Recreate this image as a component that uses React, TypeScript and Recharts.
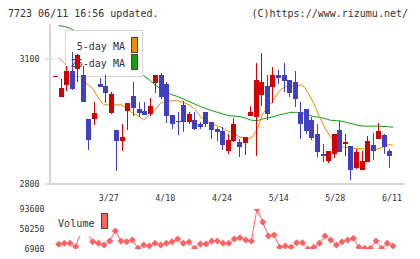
import React from 'react';
import { ComposedChart, BarChart, LineChart, Line, Bar, XAxis, YAxis } from 'recharts';

// trading days shown on the chart
const dates = [
  '3/12', '3/13', '3/14', '3/17', '3/18', '3/19', '3/21', '3/24', '3/25', '3/26',
  '3/27', '3/28', '3/31', '4/1', '4/2', '4/3', '4/4', '4/7', '4/8', '4/9',
  '4/10', '4/11', '4/14', '4/15', '4/16', '4/17', '4/18', '4/21', '4/22', '4/23',
  '4/24', '4/25', '4/30', '5/1', '5/2', '5/7', '5/8', '5/9', '5/12', '5/13',
  '5/14', '5/15', '5/16', '5/19', '5/20', '5/21', '5/22', '5/23', '5/26', '5/27',
  '5/28', '5/29', '5/30', '6/2', '6/3', '6/4', '6/5', '6/6', '6/9', '6/10',
  '6/11',
];

const opens = [
  3060, 3010, 3038, 3072, 3076, 3062, 2956, 2956, 3040, 3036,
  2970, 2930, 2904, 2976, 3012, 2980, 2974, 2968, 3042, 3062,
  3040, 2966, 2952, 2990, 2950, 2954, 2944, 2974, 2948, 2932,
  2928, 2880, 2904, 2902, 2898, 2964, 2960, 3014, 3036, 3034,
  3062, 3062, 3050, 3044, 2974, 2980, 2954, 2920, 2872, 2856,
  2871, 2930, 2896, 2891, 2839, 2834, 2854, 2894, 2909, 2918,
  2879,
];
const highs = [
  3060, 3052, 3084, 3116, 3112, 3084, 2956, 2998, 3054, 3062,
  3020, 2930, 2944, 2994, 3044, 2998, 2996, 3006, 3062, 3066,
  3044, 2966, 2974, 3000, 2974, 2974, 2950, 2974, 2950, 2936,
  2936, 2920, 2958, 2908, 2914, 2988, 3090, 3114, 3062, 3082,
  3074, 3090, 3050, 3072, 2998, 2980, 2960, 2944, 2896, 2879,
  2920, 2952, 2920, 2891, 2883, 2879, 2915, 2922, 2946, 2920,
  2884,
];
const lows = [
  3060, 3010, 3024, 3026, 3045, 2998, 2882, 2944, 3032, 2996,
  2968, 2832, 2880, 2930, 2963, 2962, 2966, 2962, 3020, 3004,
  2946, 2932, 2918, 2926, 2946, 2930, 2934, 2938, 2910, 2902,
  2880, 2872, 2900, 2866, 2872, 2964, 2866, 2986, 2954, 2996,
  3040, 3020, 3010, 2986, 2910, 2920, 2906, 2864, 2854, 2850,
  2862, 2878, 2867, 2810, 2834, 2834, 2854, 2858, 2909, 2872,
  2839,
];
const closes = [
  3060, 3030, 3072, 3028, 3110, 2998, 2906, 2970, 3034, 3018,
  3016, 2904, 2913, 2994, 2982, 2970, 2966, 2988, 3062, 3008,
  2964, 2944, 2950, 2950, 2968, 2932, 2938, 2944, 2930, 2926,
  2894, 2906, 2944, 2890, 2914, 2974, 3050, 3044, 2968, 3062,
  3054, 3048, 3018, 3004, 2944, 2928, 2910, 2878, 2867, 2879,
  2920, 2878, 2900, 2834, 2878, 2855, 2903, 2880, 2928, 2890,
  2867,
];

// 5-day and 25-day moving averages as published with the quotes
const ma5 = [
  null, 3104, 3090, 3080, 3070, 3062, 3040, 3030, 3006, 2990,
  2990, 2990, 2990, 2984, 2970, 2964, 2954, 2966, 2978, 2994,
  2998, 3000, 3000, 2996, 2990, 2980, 2962, 2952, 2944, 2940,
  2934, 2926, 2920, 2912, 2910, 2910, 2930, 2968, 2986, 3004,
  3024, 3034, 3035, 3035, 3038, 3020, 2994, 2962, 2934, 2912,
  2896, 2890, 2887, 2886, 2885, 2884, 2883, 2882, 2887, 2894,
  2894,
];
const ma25 = [
  null, 3180, 3178, 3174, 3166, 3158, 3150, 3141, 3132, 3123,
  3114, 3106, 3097, 3088, 3080, 3071, 3060, 3050, 3038, 3028,
  3020, 3014, 3010, 3004, 2998, 2992, 2986, 2981, 2976, 2972,
  2968, 2964, 2963, 2962, 2958, 2953, 2952, 2956, 2959, 2962,
  2966, 2969, 2972, 2972, 2971, 2966, 2962, 2960, 2957, 2953,
  2952, 2951, 2947, 2944, 2940, 2939, 2939, 2939, 2938, 2938,
  2936,
];

const volumes = [
  null, 17100, 19300, 19300, 11900, 45900, 41600, 22700, 19300, 15600,
  24200, 45900, 24200, 22700, 26400, 8400, 15600, 13400, 19300, 15600,
  19300, 22700, 28600, 19300, 22100, 8400, 17700, 17700, 24200, 24200,
  19300, 19300, 28600, 31400, 26400, 24200, 93600, 65400, 35100, 37200,
  10600, 13400, 10600, 20600, 20600, 6900, 10600, 19300, 35100, 26400,
  15600, 22700, 26400, 30100, 10600, 8400, 8400, 24200, 8400, 19300,
  13400,
];

const priceTicks = [2800, 3100];
const dateTicks = ['3/27', '4/10', '4/24', '5/14', '5/28', '6/11'];
const volumeTicks = [6900, 50250, 93600];
const weekTicks = [0, 1, 2, 3, 4, 5, 6, 7, 8, 9, 10, 11];

const table = dates.map((date, i) => ({
  date,
  open: opens[i],
  high: highs[i],
  low: lows[i],
  close: closes[i],
  range: [lows[i], highs[i]],
  ma5: ma5[i],
  ma25: ma25[i],
  volume: volumes[i],
}));

const MONO = '"DejaVu Sans Mono", monospace';
const AXIS = '#d6d6d6';
const TEXT = '#333333';
const UP = '#d40000';
const DOWN = '#4040c0';
const ORANGE = '#f08c00';
const GREEN = '#10a010';
const VOL = '#ff6262';
const PRICE_DOMAIN = [2800, 3184];
const PAD = { left: 3, right: 12 };
const PRICE_MARGIN = { top: 24, right: 15, bottom: 10 };

function Candle(props: any) {
  const { x, y, width, height, payload } = props;
  const { open, high, low, close } = payload;
  const top = Math.min(y, y + height);
  const h = Math.abs(height);
  const toY = (v: number) => (high === low ? top : top + ((high - v) / (high - low)) * h);
  const color = close >= open ? UP : DOWN;
  const bx = Math.round(x);
  const cx = bx + Math.floor(width / 2);
  const bodyTop = Math.round(toY(Math.max(open, close)));
  const bodyBottom = Math.round(toY(Math.min(open, close)));
  return (
    <g>
      <rect x={cx} y={Math.round(top)} width={1} height={Math.max(1, Math.round(h))} fill={color} />
      <rect x={bx} y={bodyTop} width={width} height={Math.max(1, bodyBottom - bodyTop)} fill={color} />
    </g>
  );
}

function PriceTick({ x, y, payload }: any) {
  return (
    <g>
      <line x1={x - 5} x2={x + 3} y1={y} y2={y} stroke={AXIS} strokeWidth={1.5} />
      <text x={x - 10.5} y={y + 3} textAnchor="end" fontFamily={MONO} fontSize={8.3} fill={TEXT}>
        {payload.value}
      </text>
    </g>
  );
}

function DateTick({ x, y, payload }: any) {
  return (
    <text x={x - 1} y={y + 17} textAnchor="middle" fontFamily={MONO} fontSize={8.3} fill={TEXT}>
      {payload.value}
    </text>
  );
}

function WeekTick({ x, y }: any) {
  return <line x1={x} x2={x} y1={y - 3} y2={y + 5} stroke={AXIS} strokeWidth={1.5} />;
}

function VolumeTick({ x, y, payload }: any) {
  return (
    <text x={x - 5.5} y={y + 3} textAnchor="end" fontFamily={MONO} fontSize={8.3} fill={TEXT}>
      {payload.value}
    </text>
  );
}

function Diamond({ cx, cy, index }: any) {
  if (cy == null || cx == null) return <g key={index} />;
  const r = 3.5;
  return (
    <polygon
      key={index}
      points={`${cx},${cy - r} ${cx + r},${cy} ${cx},${cy + r} ${cx - r},${cy}`}
      fill={VOL}
    />
  );
}

const layer: React.CSSProperties = { position: 'absolute', left: 0, top: 0 };

export default function App() {
  return (
    <div style={{ position: 'absolute', left: 0, top: 0, width: 420, height: 259, background: '#fff' }}>
      {/* axes and moving averages */}
      <div style={layer}>
        <ComposedChart width={420} height={210} data={table} margin={{ ...PRICE_MARGIN, left: 0 }}>
          <XAxis
            dataKey="date"
            ticks={dateTicks}
            interval={0}
            height={16}
            padding={PAD}
            axisLine={{ stroke: AXIS, strokeWidth: 2 }}
            tickLine={false}
            tickSize={0}
            tickMargin={0}
            tick={DateTick}
          />
          <YAxis
            width={50}
            domain={PRICE_DOMAIN}
            allowDataOverflow
            ticks={priceTicks}
            interval={0}
            axisLine={{ stroke: AXIS, strokeWidth: 2 }}
            tickLine={false}
            tickSize={0}
            tickMargin={0}
            tick={PriceTick}
          />
          <Line dataKey="ma25" stroke={GREEN} strokeWidth={1} dot={false} isAnimationActive={false} />
          <Line dataKey="ma5" stroke={ORANGE} strokeWidth={1} dot={false} isAnimationActive={false} />
        </ComposedChart>
      </div>

      {/* header and MA legend */}
      <svg style={layer} width={420} height={259}>
        <text x={8} y={16.5} fontFamily={MONO} fontSize={10} fill={TEXT}>
          7723 06/11 16:56 updated.
        </text>
        <text x={408} y={16.5} textAnchor="end" fontFamily={MONO} fontSize={10} fill={TEXT}>
          (C)https://www.rizumu.net/
        </text>
        <rect x={65.5} y={30.5} width={77} height={46} fill="#fff" stroke={AXIS} />
        <text x={76.7} y={50} textLength={48.3} lengthAdjust="spacingAndGlyphs" fontFamily={MONO} fontSize={11} fill={TEXT}>
          5-day MA
        </text>
        <text x={70.7} y={67} textLength={54.3} lengthAdjust="spacingAndGlyphs" fontFamily={MONO} fontSize={11} fill={TEXT}>
          25-day MA
        </text>
        <rect x={131.5} y={37.5} width={6} height={15} fill={ORANGE} stroke="#444" />
        <rect x={131.5} y={54.5} width={6} height={15} fill={GREEN} stroke="#444" />
      </svg>

      {/* candlesticks */}
      <div style={layer}>
        <BarChart width={420} height={210} data={table} margin={{ ...PRICE_MARGIN, left: 50 }}>
          <XAxis dataKey="date" hide padding={PAD} />
          <XAxis
            xAxisId="week"
            type="number"
            domain={[0, 11]}
            ticks={weekTicks}
            interval={0}
            height={16}
            axisLine={false}
            tickLine={false}
            tickSize={0}
            tickMargin={0}
            tick={WeekTick}
          />
          <YAxis hide domain={PRICE_DOMAIN} allowDataOverflow />
          <Bar dataKey="range" barSize={5} shape={Candle} isAnimationActive={false} />
        </BarChart>
      </div>

      {/* volume */}
      <div style={{ ...layer, top: 200 }}>
        <LineChart width={420} height={59} data={table} margin={{ top: 9, right: 15, left: 0, bottom: 10 }}>
          <XAxis dataKey="date" hide padding={PAD} />
          <YAxis
            width={50}
            domain={[6900, 93600]}
            allowDataOverflow
            ticks={volumeTicks}
            interval={0}
            axisLine={false}
            tickLine={false}
            tickSize={0}
            tickMargin={0}
            tick={VolumeTick}
          />
          <Line dataKey="volume" stroke={VOL} strokeWidth={1} dot={Diamond} isAnimationActive={false} />
        </LineChart>
      </div>

      <svg style={layer} width={420} height={259}>
        <rect x={55} y={210} width={57} height={26} fill="#fff" />
        <text x={58} y={226.5} textLength={36.7} lengthAdjust="spacingAndGlyphs" fontFamily={MONO} fontSize={11} fill={TEXT}>
          Volume
        </text>
        <rect x={101.5} y={213.5} width={6} height={15} fill={VOL} stroke="#444" />
      </svg>
    </div>
  );
}
